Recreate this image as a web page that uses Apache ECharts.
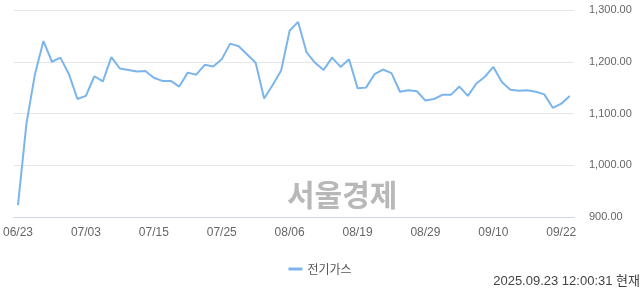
<!DOCTYPE html>
<html><head><meta charset="utf-8">
<script src="https://cdn.jsdelivr.net/npm/echarts@6/dist/echarts.min.js"></script>
<style>html,body{margin:0;padding:0;background:#fff}#c{width:640px;height:294px}</style>
</head><body><div id="c"></div>
<script>
var categories = ['06/23','06/24','06/25','06/26','06/27','06/30','07/01','07/02','07/03','07/04','07/07','07/08','07/09','07/10','07/11','07/14','07/15','07/16','07/17','07/18','07/21','07/22','07/23','07/24','07/25','07/28','07/29','07/30','07/31','08/01','08/04','08/05','08/06','08/07','08/08','08/11','08/12','08/13','08/14','08/18','08/19','08/20','08/21','08/22','08/25','08/26','08/27','08/28','08/29','09/01','09/02','09/03','09/04','09/05','09/08','09/09','09/10','09/11','09/12','09/15','09/16','09/17','09/18','09/19','09/22','09/23'];
var values = [923,1081,1176,1240,1200,1208,1176,1128,1134,1172,1162,1209,1187,1184,1181,1182,1169,1163,1163,1152,1179,1175,1194,1191,1205,1235,1230,1214,1198,1129,1155,1183,1260,1277,1218,1198,1184,1208,1190,1205,1149,1150,1176,1185,1178,1142,1145,1143,1125,1128,1136,1136,1152,1134,1158,1171,1190,1161,1146,1144,1145,1142,1137,1111,1119,1134];
var seriesName = '전기가스';
var yTicks = {min: 900, max: 1300, interval: 100};
var footnote = '2025.09.23 12:00:31 현재';
var watermark = '서울경제';

var chart = echarts.init(document.getElementById('c'), null, {renderer: 'canvas'});
chart.setOption({
  animation: false,
  grid: {left: 10, right: 66, top: 10, bottom: 77, containLabel: false},
  legend: {
    data: [seriesName], left: 'center', top: 258,
    itemWidth: 14, itemHeight: 3, itemGap: 6,
    icon: 'rect',
    textStyle: {color: '#555', fontSize: 12, fontFamily: '"Noto Sans CJK KR", sans-serif'}
  },
  xAxis: {
    type: 'category', data: categories, boundaryGap: true,
    axisLine: {lineStyle: {color: '#ccd6eb'}},
    axisTick: {alignWithLabel: true, interval: 7, length: 10, lineStyle: {color: '#ccd6eb'}},
    axisLabel: {interval: 7, margin: 10, color: '#666', fontSize: 12, fontFamily: '"Liberation Sans", Arial, sans-serif'},
    splitLine: {show: false}
  },
  yAxis: {
    type: 'value', position: 'right', min: yTicks.min, max: yTicks.max, interval: yTicks.interval,
    axisLine: {show: false}, axisTick: {show: false},
    axisLabel: {
      margin: 15, color: '#666', fontSize: 11, fontFamily: '"Liberation Sans", Arial, sans-serif',
      formatter: function (v) { return v.toLocaleString('en-US', {minimumFractionDigits: 2, maximumFractionDigits: 2}); }
    },
    splitLine: {lineStyle: {color: '#e6e6e6'}}
  },
  graphic: [
    {type: 'text', left: 287, top: 180, z: 0, style: {text: watermark, fill: '#b8b8b8', font: 'bold 30px "Noto Sans CJK KR", sans-serif'}},
    {type: 'text', right: 0, top: 275, style: {text: footnote, fill: '#444', font: '13px "Liberation Sans", "Noto Sans CJK KR", sans-serif'}}
  ],
  series: [{
    name: seriesName, type: 'line', data: values, showSymbol: false, symbol: 'none',
    lineStyle: {color: '#7cb5ec', width: 2}, itemStyle: {color: '#7cb5ec'}, z: 3
  }]
});
</script></body></html>
